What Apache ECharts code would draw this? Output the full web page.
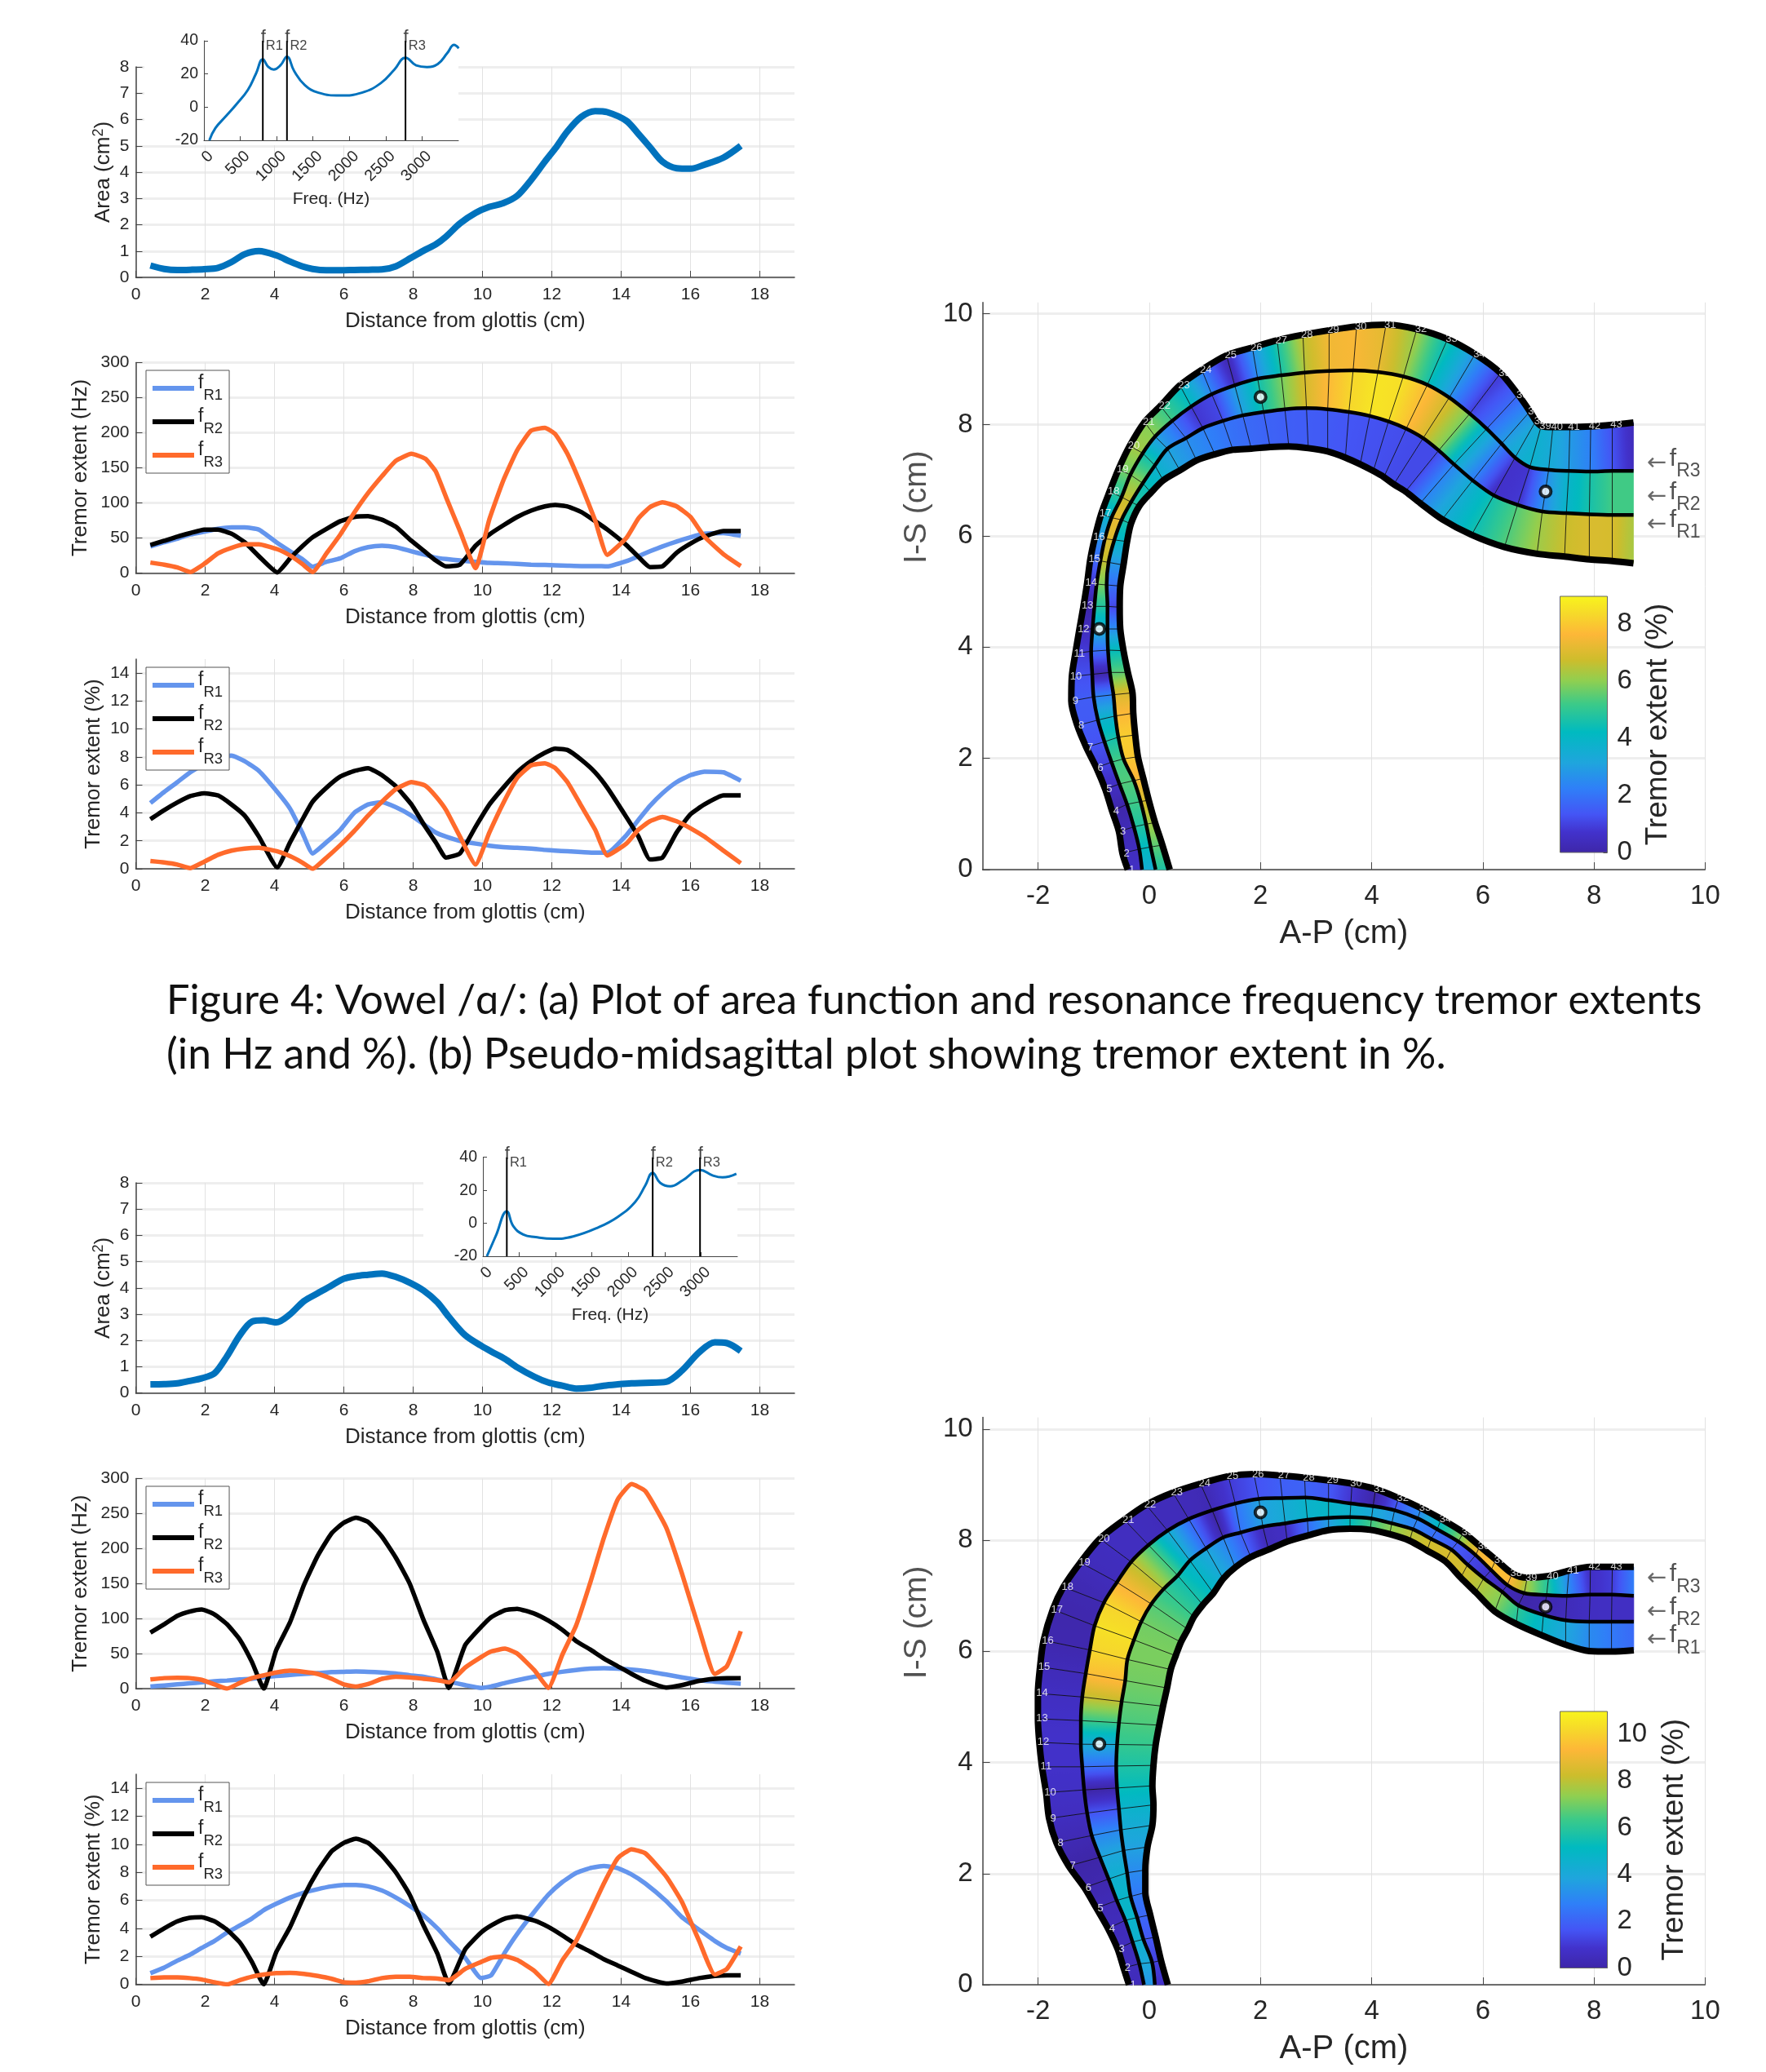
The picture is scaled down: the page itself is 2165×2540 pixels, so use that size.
<!DOCTYPE html>
<html><head><meta charset="utf-8">
<style>html,body{margin:0;padding:0;background:#fff}#c{width:2165px;height:2540px}</style>
<script src="https://cdn.jsdelivr.net/npm/echarts@6/dist/echarts.min.js"></script>
</head><body><div id="c"></div>
<script>
// ---------- vowel A: line panels ----------
const distA=[.42,.82,1.2,1.57,1.97,2.37,2.76,3.14,3.55,4.08,4.45,4.8,5.1,5.5,5.9,6.3,6.7,7.1,7.5,7.95,8.35,8.65,8.95,9.35,9.8,10.2,10.6,11,11.4,11.8,12.1,12.45,12.85,13.25,13.6,14.15,14.5,14.83,15.19,15.6,16,16.4,16.95,17.45];
const areaA=[.45,.32,.28,.29,.31,.36,.58,.88,1,.82,.6,.42,.32,.27,.27,.28,.29,.3,.42,.75,1.05,1.25,1.55,2.05,2.45,2.68,2.82,3.1,3.7,4.4,4.9,5.55,6.1,6.32,6.28,5.95,5.45,4.95,4.4,4.15,4.13,4.28,4.55,5];
const hzR1A=[38,44,49,55,59,63,65,65,62,43,31,20,9,16,21,31,37,39,37,31,26,22,20,18,16,14.5,14,13,12,11.5,11,10.5,10,10,9.5,17,24,31,38,45,51,56,57,53];
const hzR2A=[40,46,52,57,62,62,56,44,24,1,21,38,51,63,74,80,81,76,66,46,30,18,9.5,12,39,55,68,80,89,95,97,95,87,74,62,40,23,8.5,9.5,29,42,52,60,60];
const hzR3A=[15,12,8,1.5,13,28,36,41,41,34,25,13,1.5,28,55,86,114,138,160,170,163,145,108,60,7,77,132,175,203,207,198,170,125,75,26,50,78,94,101,95,80,52,27,10];
const pctR1A=[4.7,5.5,6.2,6.9,7.5,8,8.1,7.7,7,5.5,4.3,2.6,1.1,1.9,2.8,4,4.6,4.75,4.4,3.8,3.1,2.6,2.3,2,1.8,1.65,1.55,1.5,1.45,1.35,1.3,1.25,1.2,1.15,1.15,2.4,3.5,4.5,5.4,6.2,6.7,6.95,6.9,6.3];
const pctR2A=[3.55,4.2,4.75,5.2,5.4,5.25,4.6,3.8,2.3,.1,1.9,3.5,4.8,5.8,6.6,7,7.2,6.7,5.9,4.6,3,1.9,.8,1.1,3,4.6,5.8,6.9,7.7,8.3,8.6,8.5,7.8,6.9,5.8,3.7,2.3,.67,.8,2.6,3.9,4.6,5.25,5.25];
const pctR3A=[.55,.45,.3,.05,.5,1,1.3,1.45,1.5,1.25,.9,.45,0,.8,1.7,2.7,3.8,4.8,5.7,6.2,5.95,5.2,4.2,2.3,.3,2.6,4.7,6.5,7.4,7.55,7.2,6.2,4.5,2.8,.95,1.8,2.8,3.4,3.7,3.4,2.9,2.3,1.3,.4];
const freqA=[75,157,306,455,604,716,810,884,959,1052,1142,1239,1388,1575,1873,2172,2433,2620,2772,2918,3067,3216,3347,3440,3504];
const gainA=[-20,-12.7,-5.3,2.1,10.4,20.2,28.8,24.3,22.7,25.2,30.4,21.9,13.3,8.7,7,8.7,14.5,22.7,29.8,25.2,24.2,26,32.6,37.5,35.5];
const resFreqA=[810,1142,2772];
// ---------- vowel A: midsagittal section boundaries (cm) ----------
const outerXA=[-.387,-.484,-.548,-.67,-.793,-.954,-1.135,-1.296,-1.404,-1.394,-1.331,-1.257,-1.184,-1.118,-1.062,-.978,-.865,-.715,-.556,-.354,-.086,.2,.55,.944,1.389,1.854,2.3,2.763,3.234,3.73,4.258,4.812,5.365,5.861,6.319,6.637,6.847,6.955,7.051,7.261,7.566,7.941,8.329,8.711];
const outerYA=[0,.294,.685,1.052,1.443,1.834,2.2,2.592,3.032,3.473,3.888,4.328,4.744,5.16,5.58,5.98,6.4,6.8,7.2,7.62,8.05,8.34,8.71,8.99,9.25,9.39,9.52,9.62,9.7,9.77,9.8,9.72,9.54,9.27,8.93,8.54,8.24,8.07,7.98,7.96,7.96,7.97,8,8.04];
const mid3XA=[-.132,-.181,-.279,-.401,-.538,-.68,-.807,-.925,-1.003,-1.027,-1.047,-1.022,-.988,-.949,-.881,-.8,-.68,-.5,-.341,-.118,.104,.41,.753,1.122,1.536,1.949,2.375,2.795,3.234,3.667,4.112,4.57,5.003,5.397,5.766,6.071,6.338,6.58,6.847,7.184,7.547,7.929,8.329,8.711];
const mid3YA=[0,.368,.768,1.174,1.541,1.932,2.299,2.69,3.106,3.512,3.927,4.328,4.734,5.135,5.551,5.95,6.33,6.7,7.1,7.49,7.79,8.07,8.33,8.55,8.71,8.83,8.89,8.94,8.97,8.98,8.95,8.87,8.72,8.49,8.2,7.93,7.66,7.41,7.24,7.19,7.17,7.16,7.17,7.17];
const mid2XA=[.113,.024,-.059,-.157,-.279,-.465,-.558,-.612,-.646,-.709,-.744,-.753,-.753,-.768,-.734,-.63,-.5,-.328,-.118,.1,.327,.658,.963,1.326,1.682,2.057,2.439,2.827,3.209,3.59,3.966,4.303,4.621,4.926,5.206,5.48,5.817,6.198,6.625,7.07,7.503,7.916,8.329,8.711];
const mid2YA=[0,.407,.817,1.223,1.6,1.991,2.382,2.763,3.145,3.546,3.947,4.328,4.734,5.12,5.526,5.93,6.29,6.61,6.95,7.27,7.57,7.76,7.94,8.07,8.17,8.23,8.28,8.3,8.28,8.23,8.16,8.06,7.93,7.76,7.54,7.29,7,6.73,6.56,6.44,6.41,6.39,6.38,6.38];
const innerXA=[.367,.235,.103,-.01,-.108,-.205,-.254,-.289,-.303,-.386,-.465,-.523,-.533,-.523,-.465,-.4,-.33,-.18,.03,.25,.55,.85,1.18,1.504,1.835,2.172,2.509,2.859,3.209,3.527,3.794,4.029,4.22,4.398,4.608,4.875,5.27,5.798,6.389,6.975,7.471,7.916,8.329,8.711];
const innerYA=[0,.441,.846,1.248,1.639,2.03,2.421,2.812,3.179,3.546,3.937,4.328,4.72,5.1,5.477,5.9,6.22,6.54,6.78,7,7.18,7.36,7.47,7.55,7.57,7.6,7.61,7.58,7.52,7.41,7.29,7.17,7.06,6.93,6.8,6.59,6.3,6.02,5.8,5.68,5.63,5.58,5.55,5.51];
// ---------- vowel B: line panels ----------
const distB=[.42,.82,1.2,1.55,1.9,2.27,2.63,3,3.35,3.69,4.05,4.45,4.85,5.25,5.65,6,6.35,6.7,7.1,7.5,7.9,8.3,8.7,9.03,9.5,9.96,10.25,10.65,11,11.5,11.9,12.3,12.7,13.1,13.5,13.9,14.3,14.7,15.3,15.75,16.25,16.7,17.05,17.45];
const areaB=[.33,.34,.37,.46,.56,.75,1.4,2.2,2.72,2.77,2.69,3,3.5,3.8,4.1,4.35,4.45,4.5,4.55,4.42,4.2,3.9,3.45,2.9,2.2,1.8,1.58,1.3,.98,.62,.4,.28,.17,.2,.28,.33,.37,.39,.43,.85,1.55,1.93,1.9,1.6];
const hzR1B=[3,4.5,6,7.5,9,10.5,11.5,13,14,16,18,19.5,21,22,23.5,24,24.5,24,23,21.5,19,17,13,10,5,1,3,8,12,17,21,24,26.5,28.5,29,28.5,27,25,20,16,12,10,8.5,7];
const hzR2B=[80,92,104,110,113,106,92,70,38,0,55,95,148,190,222,237,244,238,217,187,150,98,52,1,62,88,102,112,114,107,97,84,68,56,43,32,21,11,1.5,5,11,14,15,15];
const hzR3B=[13,15,15.5,15,12.5,6,0,8,15,19,23,25.5,24,21,14,6,3,6.5,14,17,16,14,12,9,30,45,53,57,50,26,1,48,90,150,215,270,292,282,230,165,85,21,32,82];
const pctR1B=[.8,1.2,1.7,2.1,2.6,3.1,3.7,4.2,4.7,5.3,5.75,6.2,6.55,6.8,7,7.1,7.1,7,6.7,6.2,5.6,4.9,4,3.1,1.9,.45,.65,2.3,3.6,5.2,6.4,7.3,7.95,8.3,8.45,8.3,7.85,7.2,5.95,4.8,3.9,3.1,2.6,2.2];
const pctR2B=[3.4,4,4.5,4.75,4.8,4.5,3.9,3,1.6,0,2.3,4.1,6.3,8.1,9.5,10.1,10.4,10.1,9.2,8,6.4,4.2,2.2,.05,2.5,3.7,4.2,4.7,4.85,4.55,4.1,3.5,2.85,2.35,1.8,1.35,.9,.45,.06,.2,.45,.6,.65,.65];
const pctR3B=[.45,.5,.5,.45,.35,.15,0,.3,.55,.7,.8,.82,.75,.6,.4,.15,.12,.22,.45,.55,.55,.45,.42,.3,1.1,1.6,1.9,2,1.75,.95,.03,1.7,3.1,5.1,7.2,9,9.65,9.35,7.7,5.9,3.1,.7,1.1,2.7];
const freqB=[55,178,329,418,555,726,966,1240,1582,1856,2096,2233,2335,2438,2575,2746,2986,3158,3295,3486];
const gainB=[-20,-7.6,7.2,-1.8,-6.8,-8.4,-9.4,-8,-2.6,3.9,13,22.9,30.6,24.5,22.4,26,32.3,29,27.8,30];
const resFreqB=[329,2335,2986];
// ---------- vowel B: midsagittal section boundaries (cm) ----------
const outerXB=[-.366,-.464,-.571,-.743,-.953,-1.168,-1.452,-1.672,-1.804,-1.858,-1.932,-1.98,-2.005,-2.005,-1.966,-1.902,-1.736,-1.546,-1.24,-.89,-.452,-.058,.423,.919,1.422,1.882,2.349,2.794,3.224,3.647,4.07,4.486,4.887,5.252,5.653,5.945,6.236,6.528,6.798,7.185,7.549,7.936,8.33,8.716];
const outerYB=[0,.303,.645,1.012,1.379,1.746,2.137,2.553,2.993,3.457,3.922,4.362,4.787,5.242,5.721,6.196,6.753,7.159,7.599,8.024,8.367,8.636,8.856,9.017,9.149,9.188,9.164,9.125,9.076,9.017,8.919,8.758,8.577,8.381,8.137,7.892,7.648,7.403,7.325,7.355,7.452,7.521,7.521,7.521];
const mid3XB=[-.097,-.18,-.302,-.434,-.586,-.733,-.889,-1.036,-1.119,-1.173,-1.207,-1.232,-1.232,-1.207,-1.144,-1.07,-.985,-.817,-.584,-.328,-.015,.328,.708,1.131,1.546,1.969,2.392,2.808,3.224,3.625,4.026,4.413,4.829,5.179,5.558,5.872,6.149,6.441,6.747,7.148,7.513,7.929,8.322,8.716];
const mid3YB=[0,.377,.768,1.159,1.516,1.902,2.293,2.685,3.09,3.506,3.922,4.328,4.753,5.178,5.599,6.024,6.46,6.875,7.242,7.609,7.912,8.171,8.381,8.538,8.66,8.743,8.758,8.768,8.719,8.66,8.611,8.538,8.391,8.196,7.976,7.731,7.462,7.193,7.046,7.012,6.998,7.022,7.022,6.998];
const mid2XB=[.099,.05,-.107,-.219,-.337,-.4,-.464,-.513,-.547,-.581,-.596,-.581,-.547,-.498,-.434,-.395,-.277,-.146,.036,.255,.511,.729,1.021,1.328,1.641,2.042,2.443,2.845,3.224,3.611,3.997,4.362,4.741,5.069,5.434,5.726,6.018,6.346,6.638,7.09,7.491,7.914,8.315,8.716];
const mid2YB=[0,.401,.817,1.208,1.589,2.015,2.416,2.787,3.164,3.54,3.936,4.323,4.714,5.095,5.472,5.853,6.205,6.533,6.851,7.12,7.364,7.633,7.853,8.049,8.137,8.244,8.303,8.367,8.401,8.416,8.391,8.303,8.196,8.024,7.829,7.56,7.315,7.071,6.826,6.655,6.557,6.533,6.533,6.533];
const innerXB=[.333,.211,.114,.016,-.072,-.072,-.033,.055,.074,.055,.074,.113,.177,.246,.319,.385,.474,.569,.693,.802,.963,1.152,1.328,1.546,1.824,2.144,2.48,2.859,3.224,3.611,3.975,4.325,4.683,4.996,5.325,5.602,5.872,6.214,6.601,7.061,7.491,7.914,8.315,8.716];
const innerYB=[0,.435,.856,1.257,1.658,2.064,2.479,2.87,3.237,3.58,3.946,4.313,4.67,5.012,5.34,5.672,5.92,6.166,6.396,6.621,6.836,7.046,7.306,7.511,7.697,7.829,7.976,8.088,8.181,8.205,8.186,8.108,7.99,7.814,7.619,7.325,7.061,6.719,6.494,6.289,6.117,6.005,5.995,6.02];
// ---------- shared values ----------
const dotX=[-.9,2,7.13], dotY=[4.33,8.5,6.8];
const xTicks=[0,2,4,6,8,10,12,14,16,18];
const pctTicks=[0,2,4,6,8,10,12,14];
const freqTicks=[0,500,1000,1500,2000,2500,3000];
const apTicks=[-2,0,2,4,6,8,10];
const isTicks=[0,2,4,6,8,10];
const barTicksA=[0,2,4,6,8], barTicksB=[0,2,4,6,8,10];
const barMaxA=8.98, barMaxB=10.98;
const resNames=['R1','R2','R3'];
const tubeArrowNames=['R3','R2','R1'], arrowY=[7.3,6.7,6.2];
const yTitlePoint=[-4.18,6.52];
const captionLines=['Figure 4: Vowel /\u0251/: (a) Plot of area function and resonance frequency tremor extents','(in Hz and %). (b) Pseudo-midsagittal plot showing tremor extent in %.'];
const captionSizes=[50.5,51.6];
const cmapPos=[0,.08,.15,.25,.35,.47,.58,.67,.75,.85,.93,1];
const cmapCol=['#3e26a8','#4232cc','#4455f5','#2f7ff8','#1fa5dd','#00bac0','#3cca88','#90cf50','#cdbd2c','#fdb738','#f6d92a','#f8f51c'];

const BLUE='#0072bd',C1='#6495ed',C2='#000',C3='#ff6a2b',INK='#262626',AX='#444';
const FONT='"Liberation Sans",Arial,sans-serif';
const zip=(a,b)=>a.map((v,i)=>[v,b[i]]);
const hex=c=>[1,3,5].map(i=>parseInt(c.substr(i,2),16));
function cmap(f){
  f=Math.max(0,Math.min(1,f));
  let i=0; while(i<cmapPos.length-2&&f>cmapPos[i+1])i++;
  const t=(f-cmapPos[i])/(cmapPos[i+1]-cmapPos[i]),a=hex(cmapCol[i]),b=hex(cmapCol[i+1]);
  return 'rgb('+a.map((v,j)=>Math.round(v+(b[j]-v)*t)).join(',')+')';
}
const grid=[],xAxis=[],yAxis=[],series=[],legend=[],graphic=[];
function addGrid(l,t,w,h){grid.push({left:l,top:t,width:w,height:h,containLabel:false});return grid.length-1;}
const hSplit={show:true,lineStyle:{color:'#eeeeee',width:3}}, vSplit={show:true,lineStyle:{color:'#e2e2e2',width:1}};
const axLine={show:true,onZero:false,lineStyle:{color:AX,width:1.5}};
function mainAxes(gi,ymax,yint,yName,yGap,yCustom){
  xAxis.push({gridIndex:gi,type:'value',min:0,max:19,axisLine:axLine,axisTick:{inside:true,length:8,lineStyle:{color:AX},customValues:xTicks},
    axisLabel:{customValues:xTicks,fontSize:21,color:INK,margin:11},splitLine:vSplit,
    name:'Distance from glottis (cm)',nameLocation:'middle',nameGap:41,nameTextStyle:{fontSize:26,color:INK}});
  const y={gridIndex:gi,type:'value',min:0,max:ymax,axisLine:axLine,axisTick:{inside:true,length:8,lineStyle:{color:AX}},
    axisLabel:{fontSize:21,color:INK,margin:8},splitLine:hSplit,name:yName,nameLocation:'middle',nameGap:yGap,
    nameTextStyle:{fontSize:26,color:INK,rich:{a:{fontSize:26,color:INK},b:{fontSize:18,color:INK,verticalAlign:'top',lineHeight:28}}}};
  if(yCustom){y.axisLabel.customValues=yCustom;y.axisTick.customValues=yCustom;} else y.interval=yint;
  yAxis.push(y);
}
function addLine(gi,name,xs,ys,color,w,z,smooth){
  series.push({type:'line',name,xAxisIndex:gi,yAxisIndex:gi,data:zip(xs,ys),symbol:'none',silent:true,z:z||2,smooth:smooth===undefined?.15:smooth,
    lineStyle:{color,width:w,join:'round',cap:'butt'},itemStyle:{color}});
}
function addLabels(gi,pts,texts,label){
  series.push({type:'scatter',xAxisIndex:gi,yAxisIndex:gi,symbolSize:1,itemStyle:{color:'transparent'},clip:false,silent:true,z:6,
    data:pts.map((p,i)=>({value:p,label:{formatter:texts[i]}})),label:Object.assign({show:true},label)});
}
function addLegend(top){
  legend.push({orient:'vertical',left:179,top,padding:[4,8,4,8],itemWidth:51,itemHeight:6,itemGap:5,itemTextGap:4,icon:'rect',
    backgroundColor:'#fff',borderColor:'#555',borderWidth:1,selectedMode:false,data:['fR1','fR2','fR3'],
    formatter:n=>'{f|f}{s|'+n.slice(1)+'}',
    textStyle:{rich:{f:{fontSize:23,color:INK,lineHeight:36,verticalAlign:'top'},s:{fontSize:18.5,color:INK,lineHeight:36,verticalAlign:'bottom'}}}});
}
function addInset(l,t,w,h,freq,gain,res){
  const gi=addGrid(l,t,w,h);
  xAxis.push({gridIndex:gi,type:'value',min:0,max:3500,z:3,axisLine:{show:true,onZero:false,lineStyle:{color:AX}},
    axisTick:{inside:true,length:5,lineStyle:{color:AX},customValues:freqTicks},
    axisLabel:{customValues:freqTicks,rotate:45,fontSize:19.5,color:INK,margin:25,align:'right',padding:[0,-12,0,0],formatter:v=>String(v)},splitLine:{show:false},
    name:'Freq. (Hz)',nameLocation:'middle',nameGap:62,nameTextStyle:{fontSize:21,color:INK}});
  yAxis.push({gridIndex:gi,type:'value',min:-20,max:40,interval:20,z:3,axisLine:{show:true,onZero:false,lineStyle:{color:AX}},
    axisTick:{inside:true,length:5,lineStyle:{color:AX}},axisLabel:{fontSize:19.5,color:INK,margin:7},splitLine:{show:false}});
  addLine(gi,'transfer',freq,gain,BLUE,3,3,.45);
  res.forEach(f=>addLine(gi,'res',[f,f],[-20,40],'#000',2,3,false));
  addLabels(gi,res.map(f=>[f,40]),resNames.map(n=>'{f|f}{s|'+n+'}'),{position:'right',distance:-3,
    rich:{f:{fontSize:22,color:'#111',lineHeight:30,verticalAlign:'top'},s:{fontSize:16.5,color:'#111',lineHeight:28,verticalAlign:'bottom'}}});
}
function addBar(l,t,w,h,max,ticks,gap){
  const gi=addGrid(l,t,w,h);
  xAxis.push({gridIndex:gi,type:'value',min:0,max:1,show:false});
  yAxis.push({gridIndex:gi,type:'value',position:'right',min:0,max,axisLine:{show:false,onZero:false},
    axisTick:{inside:true,length:5,lineStyle:{color:'#333'},customValues:ticks},
    axisLabel:{customValues:ticks,fontSize:33,color:INK,margin:12},splitLine:{show:false},
    name:'Tremor extent (%)',nameLocation:'middle',nameRotate:90,nameGap:gap,nameTextStyle:{fontSize:37,color:INK}});
  series.push({type:'custom',xAxisIndex:gi,yAxisIndex:gi,silent:true,z:2,data:[[0,0,1,max]],
    renderItem(p,api){
      const a=api.coord([api.value(0),api.value(1)]),b=api.coord([api.value(2),api.value(3)]);
      const stops=cmapPos.map((f,i)=>({offset:f,color:cmapCol[i]}));
      return {type:'rect',shape:{x:a[0],y:b[1],width:b[0]-a[0],height:a[1]-b[1]},
        style:{fill:new echarts.graphic.LinearGradient(0,1,0,0,stops),stroke:'#666',lineWidth:1}};
    }});
}
function addTract(top,height,ymax,bX,bY,vals,barMax){
  const gi=addGrid(1204.6,top,885.8,height);
  xAxis.push({gridIndex:gi,type:'value',min:-3,max:10,axisLine:axLine,axisTick:{inside:true,length:9,lineStyle:{color:AX},customValues:apTicks},
    axisLabel:{customValues:apTicks,fontSize:33,color:INK,margin:16},splitLine:vSplit,
    name:'A-P (cm)',nameLocation:'middle',nameGap:58.5,nameTextStyle:{fontSize:40,color:INK}});
  yAxis.push({gridIndex:gi,type:'value',min:0,max:ymax,axisLine:axLine,axisTick:{inside:true,length:9,lineStyle:{color:AX},customValues:isTicks},
    axisLabel:{customValues:isTicks,fontSize:33,color:INK,margin:12},splitLine:hSplit});
  const cells=[];
  for(let k=0;k<43;k++)for(let t=0;t<3;t++)cells.push([k,t]);
  series.push({type:'custom',xAxisIndex:gi,yAxisIndex:gi,silent:true,z:2,data:cells,encode:{x:0,y:1},
    renderItem(p,api){
      const k=api.value(0),t=api.value(1);
      const P=(j,i)=>api.coord([bX[j][i],bY[j][i]]);
      const a=P(t,k),b=P(t+1,k),c=P(t+1,k+1),d=P(t,k+1);
      const m1=[(a[0]+b[0])/2,(a[1]+b[1])/2],m2=[(c[0]+d[0])/2,(c[1]+d[1])/2];
      const v0=vals[t][k],v1=vals[t][k+1],stops=[];
      for(let s=0;s<=6;s++){const f=s/6;stops.push({offset:f,color:cmap((v0+(v1-v0)*f)/barMax)});}
      const g=new echarts.graphic.LinearGradient(m1[0],m1[1],m2[0],m2[1],stops,true);
      return {type:'polygon',shape:{points:[a,b,c,d]},style:{fill:g,stroke:g,lineWidth:.7}};
    }});
  const secs=[];for(let k=1;k<43;k++)secs.push([k,0]);
  series.push({type:'custom',xAxisIndex:gi,yAxisIndex:gi,silent:true,z:3,data:secs,encode:{x:0,y:1},
    renderItem(p,api){
      const k=api.value(0),pts=[0,1,2,3].map(j=>api.coord([bX[j][k],bY[j][k]]));
      return {type:'polyline',shape:{points:pts},style:{stroke:'rgba(10,10,10,.85)',lineWidth:1,fill:null}};
    }});
  addLine(gi,'o',bX[0],bY[0],'#000',8,4,.3);
  addLine(gi,'m3',bX[1],bY[1],'#000',4.5,4,.3);
  addLine(gi,'m2',bX[2],bY[2],'#000',4.5,4,.3);
  addLine(gi,'i',bX[3],bY[3],'#000',8,4,.3);
  series.push({type:'scatter',xAxisIndex:gi,yAxisIndex:gi,silent:true,z:5,symbolSize:13,data:zip(dotX,dotY),
    itemStyle:{color:'#fff',borderColor:'#000',borderWidth:4}});
  const num=[],txt=[];for(let k=0;k<43;k++){num.push([bX[0][k],bY[0][k]]);txt.push(String(k+1));}
  addLabels(gi,num,txt,{position:'inside',offset:[5,0],fontSize:13,color:'#fff'});
  addLabels(gi,arrowY.map(y=>[8.94,y]),tubeArrowNames.map(n=>'{a|\u2190}{g| }{f|f}{s|'+n+'}'),{position:'right',distance:0,
    rich:{a:{fontSize:29,color:'#444',lineHeight:42,fontFamily:'"DejaVu Sans"'},g:{fontSize:14,lineHeight:42},f:{fontSize:30,color:INK,lineHeight:42,verticalAlign:'top'},s:{fontSize:23,color:INK,lineHeight:42,verticalAlign:'bottom'}}});
  addLabels(gi,[yTitlePoint],['I-S (cm)'],{position:'inside',rotate:90,fontSize:39,color:INK});
}
const gridT=1; // nudge of every panel
// ---- vowel A ----
let g=addGrid(166.5,81+gridT,807.5,258);
mainAxes(g,8,1,'{a|Area (cm}{b|2}{a|)}',26);
addLine(g,'area',distA,areaA,BLUE,8,2,.3);
graphic.push({type:'rect',z:1,shape:{x:177,y:30,width:385,height:148},style:{fill:'#fff'},silent:true});
addInset(250,50,312,122,freqA,gainA,resFreqA);
g=addGrid(166.5,443.5+gridT,807.5,258);
mainAxes(g,300,50,'Tremor extent (Hz)',55);
addLine(g,'fR1',distA,hzR1A,C1,5.5);addLine(g,'fR2',distA,hzR2A,C2,5.5);addLine(g,'fR3',distA,hzR3A,C3,5.5);
addLegend(454);
g=addGrid(166.5,807+gridT,807.5,257);
mainAxes(g,15,2,'Tremor extent (%)',39,pctTicks);
addLine(g,'fR1',distA,pctR1A,C1,5.5);addLine(g,'fR2',distA,pctR2A,C2,5.5);addLine(g,'fR3',distA,pctR3A,C3,5.5);
addLegend(818);
addTract(369.8+gridT,695.2,10.2,[outerXA,mid3XA,mid2XA,innerXA],[outerYA,mid3YA,mid2YA,innerYA],[pctR3A,pctR2A,pctR1A],barMaxA);
addBar(1912.5,731,58,314,barMaxA,barTicksA,44);
// ---- vowel B ----
g=addGrid(166.5,1449+gridT,807.5,257.7);
mainAxes(g,8,1,'{a|Area (cm}{b|2}{a|)}',26);
addLine(g,'area',distB,areaB,BLUE,8,2,.3);
graphic.push({type:'rect',z:1,shape:{x:519,y:1400,width:385,height:143},style:{fill:'#fff'},silent:true});
addInset(592,1418.7,312,121.3,freqB,gainB,resFreqB);
g=addGrid(166.5,1811.5+gridT,807.5,257.5);
mainAxes(g,300,50,'Tremor extent (Hz)',55);
addLine(g,'fR1',distB,hzR1B,C1,5.5);addLine(g,'fR2',distB,hzR2B,C2,5.5);addLine(g,'fR3',distB,hzR3B,C3,5.5);
addLegend(1822);
g=addGrid(166.5,2174+gridT,807.5,257.6);
mainAxes(g,15,2,'Tremor extent (%)',39,pctTicks);
addLine(g,'fR1',distB,pctR1B,C1,5.5);addLine(g,'fR2',distB,pctR2B,C2,5.5);addLine(g,'fR3',distB,pctR3B,C3,5.5);
addLegend(2185);
addTract(1736.5+gridT,695.5,10.21,[outerXB,mid3XB,mid2XB,innerXB],[outerYB,mid3YB,mid2YB,innerYB],[pctR3B,pctR2B,pctR1B],barMaxB);
addBar(1912.5,2098,58,314.5,barMaxB,barTicksB,64);

const chart=echarts.init(document.getElementById('c'),null,{renderer:'canvas',width:2165,height:2540});
chart.setOption({animation:false,backgroundColor:'#fff',textStyle:{fontFamily:FONT},
  title:captionLines.map((t,i)=>({text:t,left:204,top:1201+i*66,padding:0,textStyle:{fontFamily:'Lato',fontWeight:'normal',fontSize:captionSizes[i],color:'#111'}})),
  grid,xAxis,yAxis,series,legend,graphic:{elements:graphic}});
</script></body></html>
